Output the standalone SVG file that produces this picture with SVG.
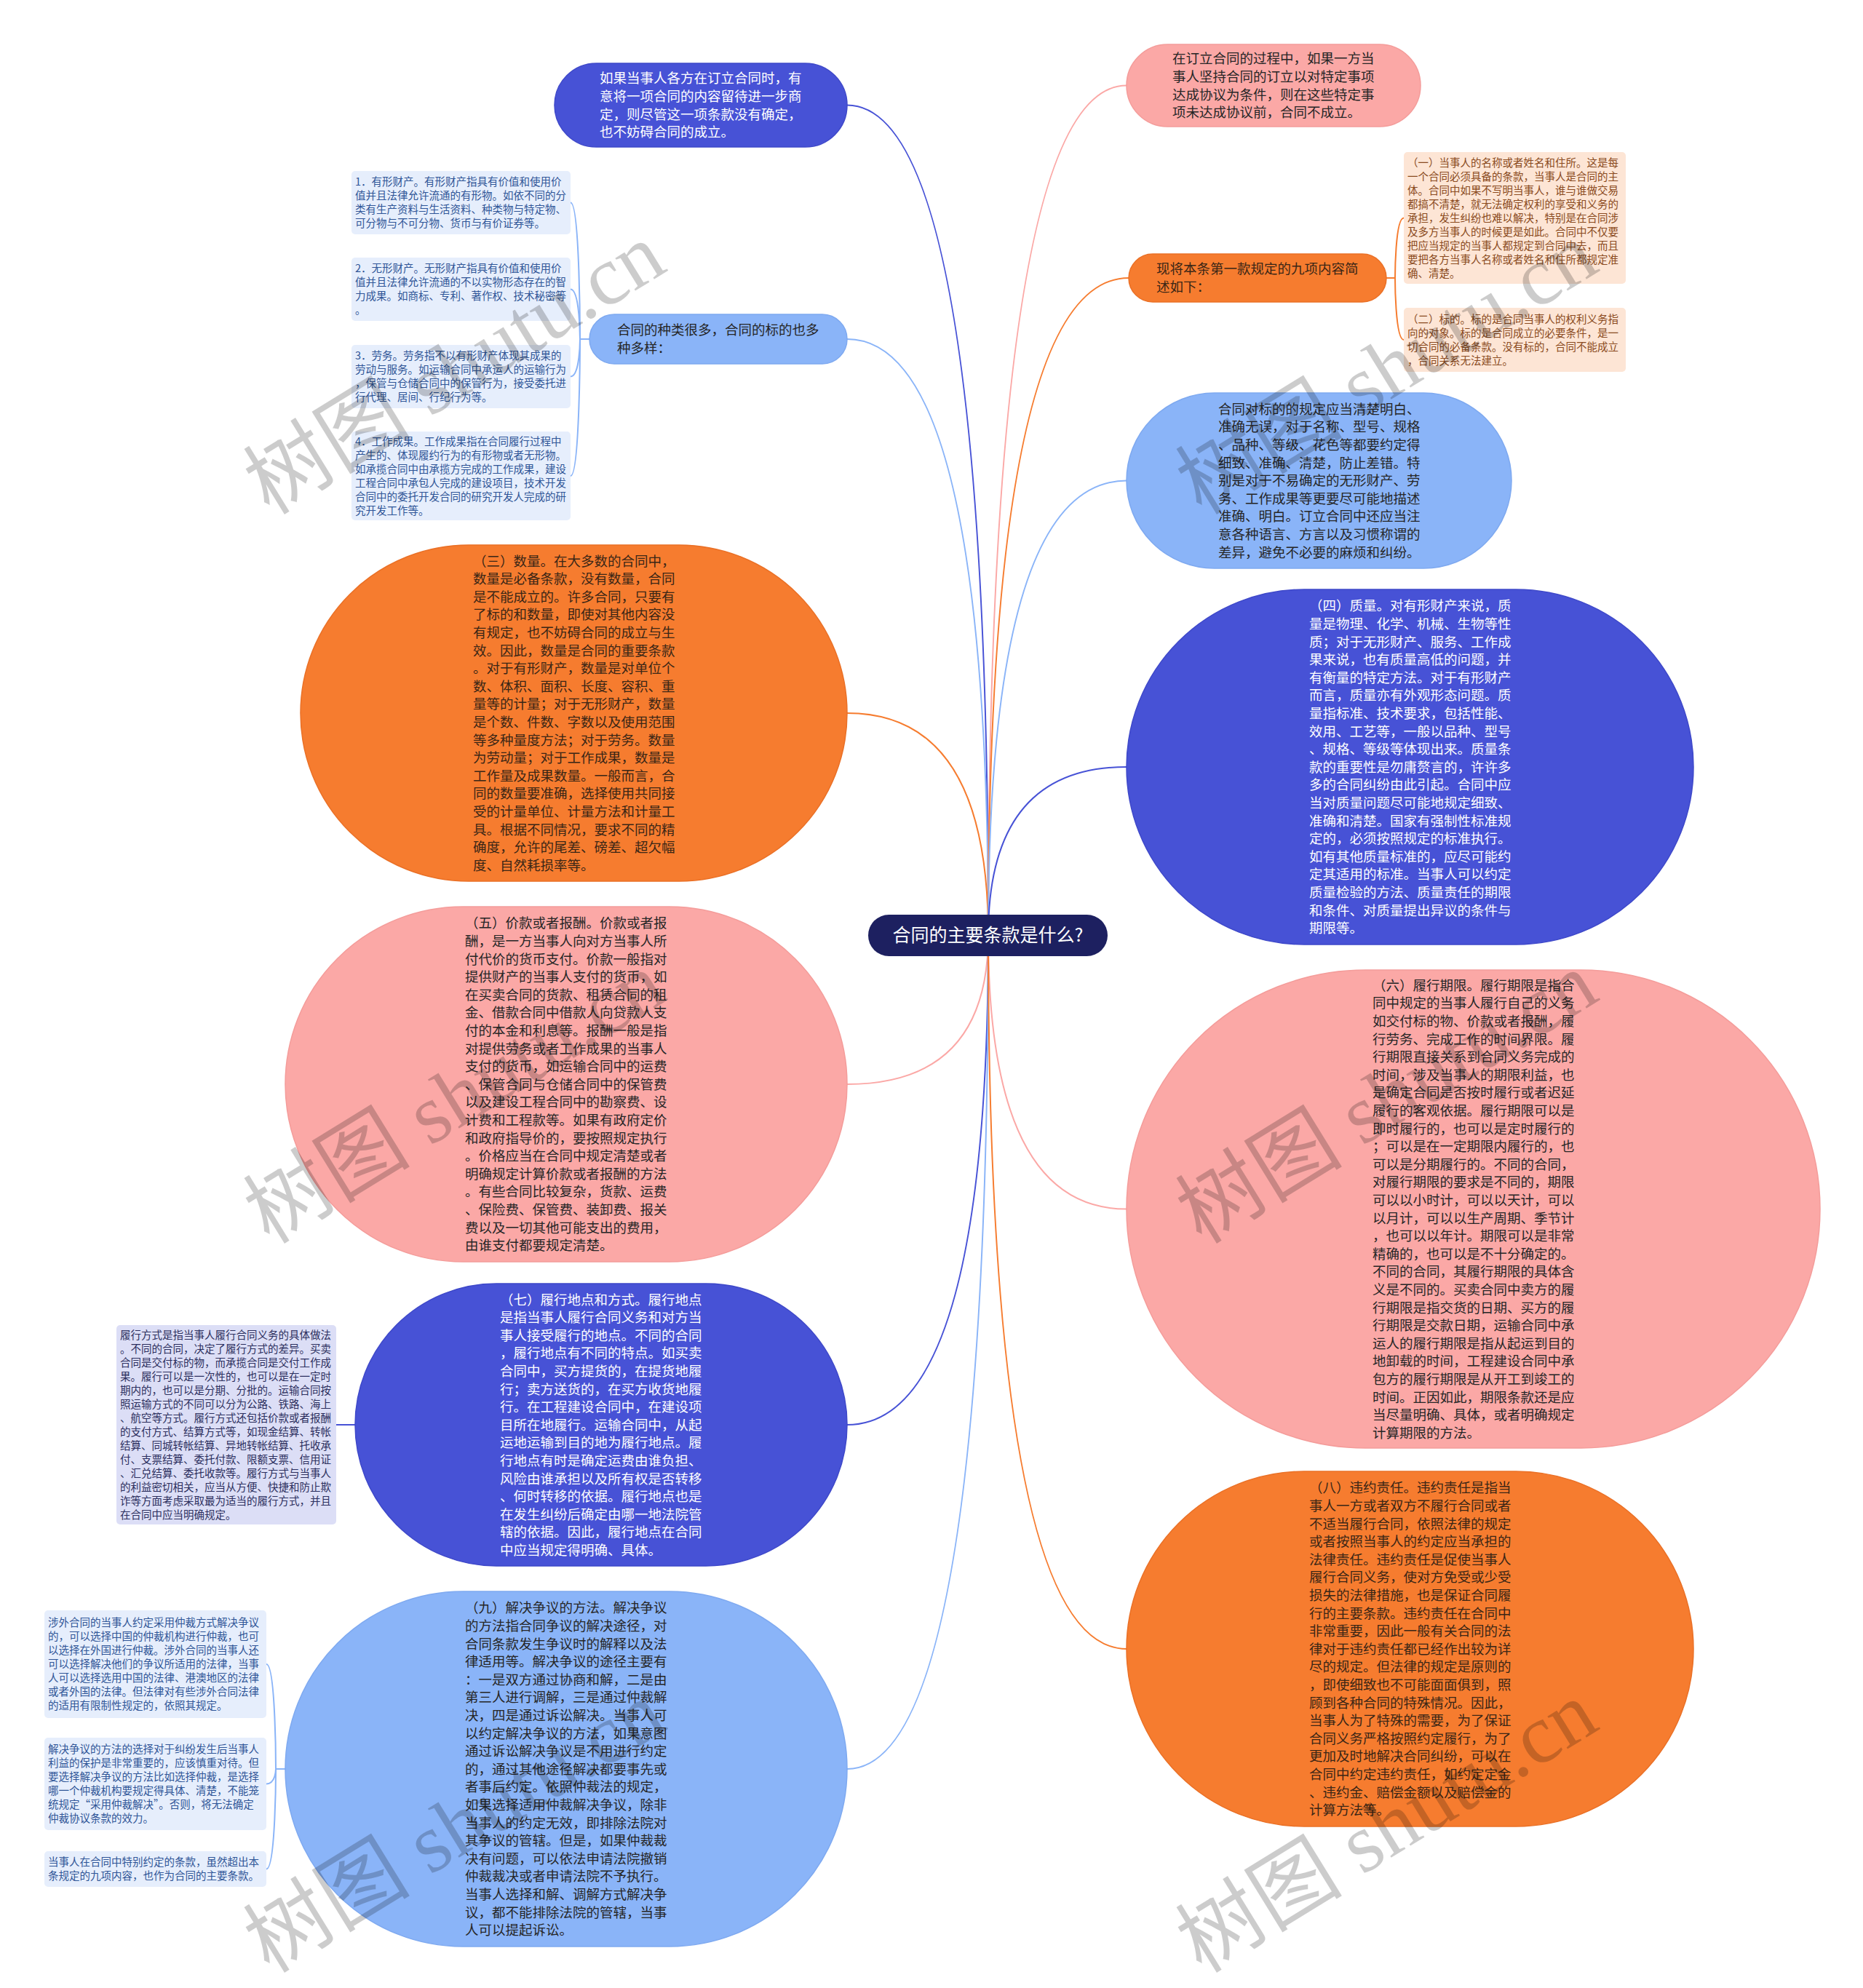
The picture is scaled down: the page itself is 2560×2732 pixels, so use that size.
<svg xmlns="http://www.w3.org/2000/svg" width="2560" height="2732" viewBox="0 0 2560 2732">
<style>
text{font-family:"Noto Sans CJK SC","Noto Sans",sans-serif;}
.t{font-size:18.5px;}
.sm{font-size:14.5px;}
.tw{fill:#ffffff;}
.td{fill:#262626;}
.to{fill:#3a2616;}
.bl{fill:#4752d6;stroke:#3e48c9;stroke-width:1.5;}
.lb{fill:#8ab4f8;stroke:#7ea9f0;stroke-width:1.5;}
.or{fill:#f67c2f;stroke:#ea7026;stroke-width:1.5;}
.pk{fill:#fba8a6;stroke:#f49c9a;stroke-width:1.5;}
.bx1{fill:#e6eefc;}
.bx2{fill:#fde5d5;}
.bx3{fill:#dcdef6;}
.tb1{fill:#2f5597;}
.tb2{fill:#8a4a20;}
.tb3{fill:#2c2f5e;}
#connectors path{fill:none;stroke-width:2;}
.wm{font-family:"Liberation Serif","Noto Sans CJK SC",serif;font-size:115px;fill:#000000;fill-opacity:0.2;}
</style>
<rect x="0" y="0" width="2560" height="2732" fill="#ffffff"/>

<g id="connectors">
  <path d="M1164,144.5 Q1358,144.5 1358,1285" stroke="#4752d6"/>
  <path d="M1164,466 Q1358,466 1358,1285" stroke="#8ab4f8"/>
  <path d="M1164,980 Q1358,980 1358,1285" stroke="#f67c2f"/>
  <path d="M1164,1490 Q1358,1490 1358,1285" stroke="#fba8a6"/>
  <path d="M1164,1958 Q1358,1958 1358,1285" stroke="#4752d6"/>
  <path d="M1164,2431 Q1358,2431 1358,1285" stroke="#8ab4f8"/>
  <path d="M1548,117.5 Q1358,117.5 1358,1285" stroke="#fba8a6"/>
  <path d="M1551,382 Q1358,382 1358,1285" stroke="#f67c2f"/>
  <path d="M1548,660.5 Q1358,660.5 1358,1285" stroke="#8ab4f8"/>
  <path d="M1548,1054 Q1358,1054 1358,1285" stroke="#4752d6"/>
  <path d="M1548,1661.5 Q1358,1661.5 1358,1285" stroke="#fba8a6"/>
  <path d="M1548,2266 Q1358,2266 1358,1285" stroke="#f67c2f"/>
  <!-- brackets -->
  <path d="M810,466 L797,466 C797,466 797,278.5 784,278.5" stroke="#8ab4f8"/>
  <path d="M810,466 L797,466 C797,466 797,397.5 784,397.5" stroke="#8ab4f8"/>
  <path d="M810,466 L797,466 C797,466 797,517.5 784,517.5" stroke="#8ab4f8"/>
  <path d="M810,466 L797,466 C797,466 797,654 784,654" stroke="#8ab4f8"/>
  <path d="M1905,382 L1917,382 C1917,382 1917,299.5 1929,299.5" stroke="#f67c2f"/>
  <path d="M1905,382 L1917,382 C1917,382 1917,467 1929,467" stroke="#f67c2f"/>
  <path d="M488,1958 L462,1958" stroke="#4752d6"/>
  <path d="M392,2431 L379,2431 C379,2431 379,2287 366,2287" stroke="#8ab4f8"/>
  <path d="M392,2431 L379,2431 C379,2431 379,2451.5 366,2451.5" stroke="#8ab4f8"/>
  <path d="M392,2431 L379,2431 C379,2431 379,2568.5 366,2568.5" stroke="#8ab4f8"/>
</g>

<g id="node-root">
  <rect x="1193" y="1257" width="329" height="57" rx="28.5" fill="#1d2060"/>
  <text x="1357.5" y="1294" font-size="25" fill="#ffffff" text-anchor="middle">合同的主要条款是什么?</text>
</g>

<g id="node-a">
  <rect class="bl" x="762" y="87" width="402" height="115" rx="57.5"/>
  <text class="t tw" x="824" y="114.3"><tspan x="824">如果当事人各方在订立合同时，有</tspan><tspan x="824" dy="24.6">意将一项合同的内容留待进一步商</tspan><tspan x="824" dy="24.6">定，则尽管这一项条款没有确定，</tspan><tspan x="824" dy="24.6">也不妨碍合同的成立。</tspan></text>
</g>

<g id="node-kinds">
  <rect class="lb" x="810" y="432" width="354" height="68" rx="34"/>
  <text class="t td" x="848" y="460.4"><tspan x="848">合同的种类很多，合同的标的也多</tspan><tspan x="848" dy="24.6">种多样：</tspan></text>
</g>

<g id="box-k1">
  <rect class="bx1" x="483" y="235" width="301" height="87" rx="5"/>
  <text class="sm tb1" x="488" y="255.3"><tspan x="488">1．有形财产。有形财产指具有价值和使用价</tspan><tspan x="488" dy="19">值并且法律允许流通的有形物。如依不同的分</tspan><tspan x="488" dy="19">类有生产资料与生活资料、种类物与特定物、</tspan><tspan x="488" dy="19">可分物与不可分物、货币与有价证券等。</tspan></text>
</g>
<g id="box-k2">
  <rect class="bx1" x="483" y="354" width="301" height="87" rx="5"/>
  <text class="sm tb1" x="488" y="374.3"><tspan x="488">2．无形财产。无形财产指具有价值和使用价</tspan><tspan x="488" dy="19">值并且法律允许流通的不以实物形态存在的智</tspan><tspan x="488" dy="19">力成果。如商标、专利、著作权、技术秘密等</tspan><tspan x="488" dy="19">。</tspan></text>
</g>
<g id="box-k3">
  <rect class="bx1" x="483" y="474" width="301" height="87" rx="5"/>
  <text class="sm tb1" x="488" y="494.3"><tspan x="488">3．劳务。劳务指不以有形财产体现其成果的</tspan><tspan x="488" dy="19">劳动与服务。如运输合同中承运人的运输行为</tspan><tspan x="488" dy="19">，保管与仓储合同中的保管行为，接受委托进</tspan><tspan x="488" dy="19">行代理、居间、行纪行为等。</tspan></text>
</g>
<g id="box-k4">
  <rect class="bx1" x="483" y="593" width="301" height="122" rx="5"/>
  <text class="sm tb1" x="488" y="611.8"><tspan x="488">4．工作成果。工作成果指在合同履行过程中</tspan><tspan x="488" dy="19">产生的、体现履约行为的有形物或者无形物。</tspan><tspan x="488" dy="19">如承揽合同中由承揽方完成的工作成果，建设</tspan><tspan x="488" dy="19">工程合同中承包人完成的建设项目，技术开发</tspan><tspan x="488" dy="19">合同中的委托开发合同的研究开发人完成的研</tspan><tspan x="488" dy="19">究开发工作等。</tspan></text>
</g>

<g id="node-3">
  <rect class="or" x="413" y="749" width="751" height="462" rx="231"/>
  <text class="t to" x="650" y="777.6"><tspan x="650">（三）数量。在大多数的合同中，</tspan><tspan x="650" dy="24.6">数量是必备条款，没有数量，合同</tspan><tspan x="650" dy="24.6">是不能成立的。许多合同，只要有</tspan><tspan x="650" dy="24.6">了标的和数量，即使对其他内容没</tspan><tspan x="650" dy="24.6">有规定，也不妨碍合同的成立与生</tspan><tspan x="650" dy="24.6">效。因此，数量是合同的重要条款</tspan><tspan x="650" dy="24.6">。对于有形财产，数量是对单位个</tspan><tspan x="650" dy="24.6">数、体积、面积、长度、容积、重</tspan><tspan x="650" dy="24.6">量等的计量；对于无形财产，数量</tspan><tspan x="650" dy="24.6">是个数、件数、字数以及使用范围</tspan><tspan x="650" dy="24.6">等多种量度方法；对于劳务。数量</tspan><tspan x="650" dy="24.6">为劳动量；对于工作成果，数量是</tspan><tspan x="650" dy="24.6">工作量及成果数量。一般而言，合</tspan><tspan x="650" dy="24.6">同的数量要准确，选择使用共同接</tspan><tspan x="650" dy="24.6">受的计量单位、计量方法和计量工</tspan><tspan x="650" dy="24.6">具。根据不同情况，要求不同的精</tspan><tspan x="650" dy="24.6">确度，允许的尾差、磅差、超欠幅</tspan><tspan x="650" dy="24.6">度、自然耗损率等。</tspan></text>
</g>

<g id="node-5">
  <rect class="pk" x="392" y="1246" width="772" height="488" rx="244"/>
  <text class="t td" x="639" y="1275.3"><tspan x="639">（五）价款或者报酬。价款或者报</tspan><tspan x="639" dy="24.6">酬，是一方当事人向对方当事人所</tspan><tspan x="639" dy="24.6">付代价的货币支付。价款一般指对</tspan><tspan x="639" dy="24.6">提供财产的当事人支付的货币，如</tspan><tspan x="639" dy="24.6">在买卖合同的货款、租赁合同的租</tspan><tspan x="639" dy="24.6">金、借款合同中借款人向贷款人支</tspan><tspan x="639" dy="24.6">付的本金和利息等。报酬一般是指</tspan><tspan x="639" dy="24.6">对提供劳务或者工作成果的当事人</tspan><tspan x="639" dy="24.6">支付的货币，如运输合同中的运费</tspan><tspan x="639" dy="24.6">、保管合同与仓储合同中的保管费</tspan><tspan x="639" dy="24.6">以及建设工程合同中的勘察费、设</tspan><tspan x="639" dy="24.6">计费和工程款等。如果有政府定价</tspan><tspan x="639" dy="24.6">和政府指导价的，要按照规定执行</tspan><tspan x="639" dy="24.6">。价格应当在合同中规定清楚或者</tspan><tspan x="639" dy="24.6">明确规定计算价款或者报酬的方法</tspan><tspan x="639" dy="24.6">。有些合同比较复杂，货款、运费</tspan><tspan x="639" dy="24.6">、保险费、保管费、装卸费、报关</tspan><tspan x="639" dy="24.6">费以及一切其他可能支出的费用，</tspan><tspan x="639" dy="24.6">由谁支付都要规定清楚。</tspan></text>
</g>

<g id="node-7">
  <rect class="bl" x="488" y="1764" width="676" height="388" rx="194"/>
  <text class="t tw" x="687" y="1792.5"><tspan x="687">（七）履行地点和方式。履行地点</tspan><tspan x="687" dy="24.6">是指当事人履行合同义务和对方当</tspan><tspan x="687" dy="24.6">事人接受履行的地点。不同的合同</tspan><tspan x="687" dy="24.6">，履行地点有不同的特点。如买卖</tspan><tspan x="687" dy="24.6">合同中，买方提货的，在提货地履</tspan><tspan x="687" dy="24.6">行；卖方送货的，在买方收货地履</tspan><tspan x="687" dy="24.6">行。在工程建设合同中，在建设项</tspan><tspan x="687" dy="24.6">目所在地履行。运输合同中，从起</tspan><tspan x="687" dy="24.6">运地运输到目的地为履行地点。履</tspan><tspan x="687" dy="24.6">行地点有时是确定运费由谁负担、</tspan><tspan x="687" dy="24.6">风险由谁承担以及所有权是否转移</tspan><tspan x="687" dy="24.6">、何时转移的依据。履行地点也是</tspan><tspan x="687" dy="24.6">在发生纠纷后确定由哪一地法院管</tspan><tspan x="687" dy="24.6">辖的依据。因此，履行地点在合同</tspan><tspan x="687" dy="24.6">中应当规定得明确、具体。</tspan></text>
</g>

<g id="box-7">
  <rect class="bx3" x="160" y="1821" width="302" height="274" rx="5"/>
  <text class="sm tb3" x="165" y="1839.8"><tspan x="165">履行方式是指当事人履行合同义务的具体做法</tspan><tspan x="165" dy="19">。不同的合同，决定了履行方式的差异。买卖</tspan><tspan x="165" dy="19">合同是交付标的物，而承揽合同是交付工作成</tspan><tspan x="165" dy="19">果。履行可以是一次性的，也可以是在一定时</tspan><tspan x="165" dy="19">期内的，也可以是分期、分批的。运输合同按</tspan><tspan x="165" dy="19">照运输方式的不同可以分为公路、铁路、海上</tspan><tspan x="165" dy="19">、航空等方式。履行方式还包括价款或者报酬</tspan><tspan x="165" dy="19">的支付方式、结算方式等，如现金结算、转帐</tspan><tspan x="165" dy="19">结算、同城转帐结算、异地转帐结算、托收承</tspan><tspan x="165" dy="19">付、支票结算、委托付款、限额支票、信用证</tspan><tspan x="165" dy="19">、汇兑结算、委托收款等。履行方式与当事人</tspan><tspan x="165" dy="19">的利益密切相关，应当从方便、快捷和防止欺</tspan><tspan x="165" dy="19">诈等方面考虑采取最为适当的履行方式，并且</tspan><tspan x="165" dy="19">在合同中应当明确规定。</tspan></text>
</g>

<g id="node-9">
  <rect class="lb" x="392" y="2187" width="772" height="488" rx="244"/>
  <text class="t td" x="639" y="2216.3"><tspan x="639">（九）解决争议的方法。解决争议</tspan><tspan x="639" dy="24.6">的方法指合同争议的解决途径，对</tspan><tspan x="639" dy="24.6">合同条款发生争议时的解释以及法</tspan><tspan x="639" dy="24.6">律适用等。解决争议的途径主要有</tspan><tspan x="639" dy="24.6">：一是双方通过协商和解，二是由</tspan><tspan x="639" dy="24.6">第三人进行调解，三是通过仲裁解</tspan><tspan x="639" dy="24.6">决，四是通过诉讼解决。当事人可</tspan><tspan x="639" dy="24.6">以约定解决争议的方法，如果意图</tspan><tspan x="639" dy="24.6">通过诉讼解决争议是不用进行约定</tspan><tspan x="639" dy="24.6">的，通过其他途径解决都要事先或</tspan><tspan x="639" dy="24.6">者事后约定。依照仲裁法的规定，</tspan><tspan x="639" dy="24.6">如果选择适用仲裁解决争议，除非</tspan><tspan x="639" dy="24.6">当事人的约定无效，即排除法院对</tspan><tspan x="639" dy="24.6">其争议的管辖。但是，如果仲裁裁</tspan><tspan x="639" dy="24.6">决有问题，可以依法申请法院撤销</tspan><tspan x="639" dy="24.6">仲裁裁决或者申请法院不予执行。</tspan><tspan x="639" dy="24.6">当事人选择和解、调解方式解决争</tspan><tspan x="639" dy="24.6">议，都不能排除法院的管辖，当事</tspan><tspan x="639" dy="24.6">人可以提起诉讼。</tspan></text>
</g>

<g id="box-9a">
  <rect class="bx1" x="61" y="2213" width="305" height="148" rx="5"/>
  <text class="sm tb1" x="66" y="2235.3"><tspan x="66">涉外合同的当事人约定采用仲裁方式解决争议</tspan><tspan x="66" dy="19">的，可以选择中国的仲裁机构进行仲裁，也可</tspan><tspan x="66" dy="19">以选择在外国进行仲裁。涉外合同的当事人还</tspan><tspan x="66" dy="19">可以选择解决他们的争议所适用的法律，当事</tspan><tspan x="66" dy="19">人可以选择选用中国的法律、港澳地区的法律</tspan><tspan x="66" dy="19">或者外国的法律。但法律对有些涉外合同法律</tspan><tspan x="66" dy="19">的适用有限制性规定的，依照其规定。</tspan></text>
</g>
<g id="box-9b">
  <rect class="bx1" x="61" y="2388" width="305" height="127" rx="5"/>
  <text class="sm tb1" x="66" y="2409.3"><tspan x="66">解决争议的方法的选择对于纠纷发生后当事人</tspan><tspan x="66" dy="19">利益的保护是非常重要的，应该慎重对待。但</tspan><tspan x="66" dy="19">要选择解决争议的方法比如选择仲裁，是选择</tspan><tspan x="66" dy="19">哪一个仲裁机构要规定得具体、清楚，不能笼</tspan><tspan x="66" dy="19">统规定“采用仲裁解决”。否则，将无法确定</tspan><tspan x="66" dy="19">仲裁协议条款的效力。</tspan></text>
</g>
<g id="box-9c">
  <rect class="bx1" x="61" y="2544" width="305" height="49" rx="5"/>
  <text class="sm tb1" x="66" y="2564.3"><tspan x="66">当事人在合同中特别约定的条款，虽然超出本</tspan><tspan x="66" dy="19">条规定的九项内容，也作为合同的主要条款。</tspan></text>
</g>

<g id="node-b">
  <rect class="pk" x="1548" y="61" width="404" height="113" rx="56.5"/>
  <text class="t td" x="1611" y="87.3"><tspan x="1611">在订立合同的过程中，如果一方当</tspan><tspan x="1611" dy="24.6">事人坚持合同的订立以对特定事项</tspan><tspan x="1611" dy="24.6">达成协议为条件，则在这些特定事</tspan><tspan x="1611" dy="24.6">项未达成协议前，合同不成立。</tspan></text>
</g>

<g id="node-c">
  <rect class="or" x="1551" y="349" width="354" height="66" rx="33"/>
  <text class="t to" x="1589" y="376.4"><tspan x="1589">现将本条第一款规定的九项内容简</tspan><tspan x="1589" dy="24.6">述如下：</tspan></text>
</g>

<g id="box-c1">
  <rect class="bx2" x="1929" y="209" width="305" height="181" rx="5"/>
  <text class="sm tb2" x="1934" y="228.8"><tspan x="1934">（一）当事人的名称或者姓名和住所。这是每</tspan><tspan x="1934" dy="19">一个合同必须具备的条款，当事人是合同的主</tspan><tspan x="1934" dy="19">体。合同中如果不写明当事人，谁与谁做交易</tspan><tspan x="1934" dy="19">都搞不清楚，就无法确定权利的享受和义务的</tspan><tspan x="1934" dy="19">承担，发生纠纷也难以解决，特别是在合同涉</tspan><tspan x="1934" dy="19">及多方当事人的时候更是如此。合同中不仅要</tspan><tspan x="1934" dy="19">把应当规定的当事人都规定到合同中去，而且</tspan><tspan x="1934" dy="19">要把各方当事人名称或者姓名和住所都规定准</tspan><tspan x="1934" dy="19">确、清楚。</tspan></text>
</g>
<g id="box-c2">
  <rect class="bx2" x="1929" y="423" width="305" height="88" rx="5"/>
  <text class="sm tb2" x="1934" y="443.8"><tspan x="1934">（二）标的。标的是合同当事人的权利义务指</tspan><tspan x="1934" dy="19">向的对象。标的是合同成立的必要条件，是一</tspan><tspan x="1934" dy="19">切合同的必备条款。没有标的，合同不能成立</tspan><tspan x="1934" dy="19">，合同关系无法建立。</tspan></text>
</g>

<g id="node-subject">
  <rect class="lb" x="1548" y="540" width="529" height="241" rx="120.5"/>
  <text class="t td" x="1674" y="568.8"><tspan x="1674">合同对标的的规定应当清楚明白、</tspan><tspan x="1674" dy="24.6">准确无误，对于名称、型号、规格</tspan><tspan x="1674" dy="24.6">、品种、等级、花色等都要约定得</tspan><tspan x="1674" dy="24.6">细致、准确、清楚，防止差错。特</tspan><tspan x="1674" dy="24.6">别是对于不易确定的无形财产、劳</tspan><tspan x="1674" dy="24.6">务、工作成果等更要尽可能地描述</tspan><tspan x="1674" dy="24.6">准确、明白。订立合同中还应当注</tspan><tspan x="1674" dy="24.6">意各种语言、方言以及习惯称谓的</tspan><tspan x="1674" dy="24.6">差异，避免不必要的麻烦和纠纷。</tspan></text>
</g>

<g id="node-4">
  <rect class="bl" x="1548" y="810" width="779" height="488" rx="244"/>
  <text class="t tw" x="1799" y="839.3"><tspan x="1799">（四）质量。对有形财产来说，质</tspan><tspan x="1799" dy="24.6">量是物理、化学、机械、生物等性</tspan><tspan x="1799" dy="24.6">质；对于无形财产、服务、工作成</tspan><tspan x="1799" dy="24.6">果来说，也有质量高低的问题，并</tspan><tspan x="1799" dy="24.6">有衡量的特定方法。对于有形财产</tspan><tspan x="1799" dy="24.6">而言，质量亦有外观形态问题。质</tspan><tspan x="1799" dy="24.6">量指标准、技术要求，包括性能、</tspan><tspan x="1799" dy="24.6">效用、工艺等，一般以品种、型号</tspan><tspan x="1799" dy="24.6">、规格、等级等体现出来。质量条</tspan><tspan x="1799" dy="24.6">款的重要性是勿庸赘言的，许许多</tspan><tspan x="1799" dy="24.6">多的合同纠纷由此引起。合同中应</tspan><tspan x="1799" dy="24.6">当对质量问题尽可能地规定细致、</tspan><tspan x="1799" dy="24.6">准确和清楚。国家有强制性标准规</tspan><tspan x="1799" dy="24.6">定的，必须按照规定的标准执行。</tspan><tspan x="1799" dy="24.6">如有其他质量标准的，应尽可能约</tspan><tspan x="1799" dy="24.6">定其适用的标准。当事人可以约定</tspan><tspan x="1799" dy="24.6">质量检验的方法、质量责任的期限</tspan><tspan x="1799" dy="24.6">和条件、对质量提出异议的条件与</tspan><tspan x="1799" dy="24.6">期限等。</tspan></text>
</g>

<g id="node-6">
  <rect class="pk" x="1548" y="1333" width="953" height="657" rx="328.5"/>
  <text class="t td" x="1886" y="1360.7"><tspan x="1886">（六）履行期限。履行期限是指合</tspan><tspan x="1886" dy="24.6">同中规定的当事人履行自己的义务</tspan><tspan x="1886" dy="24.6">如交付标的物、价款或者报酬，履</tspan><tspan x="1886" dy="24.6">行劳务、完成工作的时间界限。履</tspan><tspan x="1886" dy="24.6">行期限直接关系到合同义务完成的</tspan><tspan x="1886" dy="24.6">时间，涉及当事人的期限利益，也</tspan><tspan x="1886" dy="24.6">是确定合同是否按时履行或者迟延</tspan><tspan x="1886" dy="24.6">履行的客观依据。履行期限可以是</tspan><tspan x="1886" dy="24.6">即时履行的，也可以是定时履行的</tspan><tspan x="1886" dy="24.6">；可以是在一定期限内履行的，也</tspan><tspan x="1886" dy="24.6">可以是分期履行的。不同的合同，</tspan><tspan x="1886" dy="24.6">对履行期限的要求是不同的，期限</tspan><tspan x="1886" dy="24.6">可以以小时计，可以以天计，可以</tspan><tspan x="1886" dy="24.6">以月计，可以以生产周期、季节计</tspan><tspan x="1886" dy="24.6">，也可以以年计。期限可以是非常</tspan><tspan x="1886" dy="24.6">精确的，也可以是不十分确定的。</tspan><tspan x="1886" dy="24.6">不同的合同，其履行期限的具体含</tspan><tspan x="1886" dy="24.6">义是不同的。买卖合同中卖方的履</tspan><tspan x="1886" dy="24.6">行期限是指交货的日期、买方的履</tspan><tspan x="1886" dy="24.6">行期限是交款日期，运输合同中承</tspan><tspan x="1886" dy="24.6">运人的履行期限是指从起运到目的</tspan><tspan x="1886" dy="24.6">地卸载的时间，工程建设合同中承</tspan><tspan x="1886" dy="24.6">包方的履行期限是从开工到竣工的</tspan><tspan x="1886" dy="24.6">时间。正因如此，期限条款还是应</tspan><tspan x="1886" dy="24.6">当尽量明确、具体，或者明确规定</tspan><tspan x="1886" dy="24.6">计算期限的方法。</tspan></text>
</g>

<g id="node-8">
  <rect class="or" x="1548" y="2022" width="779" height="488" rx="244"/>
  <text class="t to" x="1799" y="2051.3"><tspan x="1799">（八）违约责任。违约责任是指当</tspan><tspan x="1799" dy="24.6">事人一方或者双方不履行合同或者</tspan><tspan x="1799" dy="24.6">不适当履行合同，依照法律的规定</tspan><tspan x="1799" dy="24.6">或者按照当事人的约定应当承担的</tspan><tspan x="1799" dy="24.6">法律责任。违约责任是促使当事人</tspan><tspan x="1799" dy="24.6">履行合同义务，使对方免受或少受</tspan><tspan x="1799" dy="24.6">损失的法律措施，也是保证合同履</tspan><tspan x="1799" dy="24.6">行的主要条款。违约责任在合同中</tspan><tspan x="1799" dy="24.6">非常重要，因此一般有关合同的法</tspan><tspan x="1799" dy="24.6">律对于违约责任都已经作出较为详</tspan><tspan x="1799" dy="24.6">尽的规定。但法律的规定是原则的</tspan><tspan x="1799" dy="24.6">，即使细致也不可能面面俱到，照</tspan><tspan x="1799" dy="24.6">顾到各种合同的特殊情况。因此，</tspan><tspan x="1799" dy="24.6">当事人为了特殊的需要，为了保证</tspan><tspan x="1799" dy="24.6">合同义务严格按照约定履行，为了</tspan><tspan x="1799" dy="24.6">更加及时地解决合同纠纷，可以在</tspan><tspan x="1799" dy="24.6">合同中约定违约责任，如约定定金</tspan><tspan x="1799" dy="24.6">、违约金、赔偿金额以及赔偿金的</tspan><tspan x="1799" dy="24.6">计算方法等。</tspan></text>
</g>

<g id="watermarks">
  <text class="wm" text-anchor="middle" transform="translate(645,540) rotate(-31.6)">树图 shutu.cn</text>
  <text class="wm" text-anchor="middle" transform="translate(1926,540) rotate(-31.6)">树图 shutu.cn</text>
  <text class="wm" text-anchor="middle" transform="translate(645,1542) rotate(-31.6)">树图 shutu.cn</text>
  <text class="wm" text-anchor="middle" transform="translate(1926,1542) rotate(-31.6)">树图 shutu.cn</text>
  <text class="wm" text-anchor="middle" transform="translate(645,2544) rotate(-31.6)">树图 shutu.cn</text>
  <text class="wm" text-anchor="middle" transform="translate(1926,2544) rotate(-31.6)">树图 shutu.cn</text>
</g>
</svg>
